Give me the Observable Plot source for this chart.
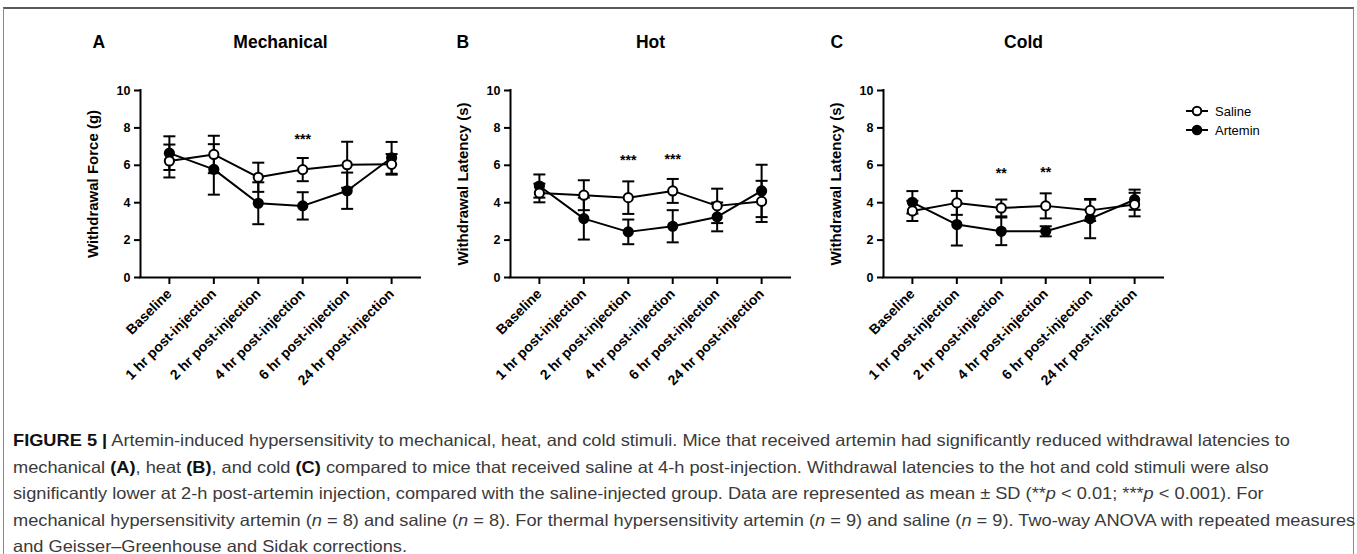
<!DOCTYPE html>
<html><head><meta charset="utf-8">
<script src="https://cdn.jsdelivr.net/npm/d3@7"></script>
<script src="https://cdn.jsdelivr.net/npm/@observablehq/plot@0.6"></script>
<style>
html,body{margin:0;padding:0;background:#fff;}
#fig{position:relative;width:1357px;height:554px;overflow:hidden;background:#fff;font-family:"Liberation Sans",Arial,sans-serif;}
#box{position:absolute;left:3px;top:7px;width:1349px;height:600px;border-top:2px solid #5a5a5a;border-left:1px solid #8a8a8a;border-right:1px solid #8a8a8a;}
.panel{position:absolute;top:0;}
#legend{position:absolute;left:1184px;top:100px;}
#caption{position:absolute;left:13px;top:427px;font-size:16.5px;line-height:26.5px;color:#3a3a3a;white-space:nowrap;transform-origin:0 0;}
#caption span{display:inline-block;}
#caption b{color:#111;}
</style></head><body><div id="fig"><div id="box"></div>
<div id="legend"></div>
<div id="caption">
<div><span><b>FIGURE 5 |</b> Artemin-induced hypersensitivity to mechanical, heat, and cold stimuli. Mice that received artemin had significantly reduced withdrawal latencies to</span></div>
<div><span>mechanical <b>(A)</b>, heat <b>(B)</b>, and cold <b>(C)</b> compared to mice that received saline at 4-h post-injection. Withdrawal latencies to the hot and cold stimuli were also</span></div>
<div><span>significantly lower at 2-h post-artemin injection, compared with the saline-injected group. Data are represented as mean ± SD (**<i>p</i> &lt; 0.01; ***<i>p</i> &lt; 0.001). For</span></div>
<div><span>mechanical hypersensitivity artemin (<i>n</i> = 8) and saline (<i>n</i> = 8). For thermal hypersensitivity artemin (<i>n</i> = 9) and saline (<i>n</i> = 9). Two-way ANOVA with repeated measures</span></div>
<div><span>and Geisser–Greenhouse and Sidak corrections.</span></div>
</div>
</div>
<script>
const timepoints = ["Baseline","1 hr post-injection","2 hr post-injection","4 hr post-injection","6 hr post-injection","24 hr post-injection"];
const groups = ["Saline","Artemin"];

const mechSalineMean = [6.23, 6.58, 5.36, 5.77, 6.03, 6.05];
const mechSalineSD   = [0.88, 1.00, 0.78, 0.62, 1.23, 0.55];
const mechArteminMean= [6.65, 5.78, 3.97, 3.83, 4.64, 6.40];
const mechArteminSD  = [0.90, 1.35, 1.12, 0.73, 0.97, 0.85];

const hotSalineMean  = [4.52, 4.40, 4.27, 4.63, 3.83, 4.07];
const hotSalineSD    = [0.50, 0.80, 0.87, 0.64, 0.92, 1.10];
const hotArteminMean = [4.89, 3.15, 2.44, 2.74, 3.24, 4.63];
const hotArteminSD   = [0.62, 1.12, 0.66, 0.86, 0.77, 1.40];

const coldSalineMean = [3.56, 3.99, 3.72, 3.83, 3.59, 3.90];
const coldSalineSD   = [0.54, 0.64, 0.45, 0.67, 0.57, 0.63];
const coldArteminMean= [4.02, 2.83, 2.47, 2.47, 3.15, 4.16];
const coldArteminSD  = [0.60, 1.12, 0.74, 0.27, 1.05, 0.54];

const mechStars = [{i:3, y:7.40, label:"***"}];
const hotStars  = [{i:2, y:6.27, label:"***"}, {i:3, y:6.30, label:"***"}];
const coldStars = [{i:2, y:5.57, label:"**"}, {i:3, y:5.60, label:"**"}];

const yTicks = [0, 2, 4, 6, 8, 10];
const xPad = 0.65;

const hline = {draw(ctx, size){ const r = Math.sqrt(size/Math.PI); ctx.moveTo(-r,0); ctx.lineTo(r,0); }};

function rows(means, sds){
  return timepoints.map((t,i)=>({i, t, m:means[i], lo:means[i]-sds[i], hi:means[i]+sds[i]}));
}
function series(d, fill){
  return [
    Plot.ruleX(d, {x:"i", y1:"lo", y2:"hi", stroke:"#000", strokeWidth:2}),
    Plot.dot(d, {x:"i", y:"lo", symbol:hline, r:6, stroke:"#000", strokeWidth:2, fill:"none"}),
    Plot.dot(d, {x:"i", y:"hi", symbol:hline, r:6, stroke:"#000", strokeWidth:2, fill:"none"}),
    Plot.line(d, {x:"i", y:"m", stroke:"#000", strokeWidth:2}),
    Plot.dot(d, {x:"i", y:"m", r:4.6, fill, stroke:"#000", strokeWidth:2})
  ];
}
function panel(cfg){
  const sal = rows(cfg.sm, cfg.ss), art = rows(cfg.am, cfg.as);
  const p = Plot.plot({
    width:360, height:420, marginLeft:60, marginRight:20, marginTop:90, marginBottom:143,
    style:{fontFamily:'"Liberation Sans", Arial, sans-serif', fontWeight:"bold", color:"#000", background:"transparent", overflow:"visible"},
    x:{type:"linear", domain:[-xPad, timepoints.length-1+xPad], axis:null},
    y:{domain:[0,10], axis:null},
    marks:[
      Plot.axisY({ticks:yTicks, tickSize:6, tickPadding:4, strokeWidth:2, fontSize:12.5, fontWeight:"bold", label:null}),
      Plot.axisX({ticks:d3.range(timepoints.length), tickFormat:i=>timepoints[i], tickSize:7, tickPadding:7, tickRotate:-45, strokeWidth:2, fontSize:14, fontWeight:"bold", label:null}),
      Plot.ruleX([-xPad], {stroke:"#000", strokeWidth:2, strokeLinecap:"square"}),
      Plot.ruleY([0], {stroke:"#000", strokeWidth:2, strokeLinecap:"square"}),
      ...series(art, "#000"),
      ...series(sal, "#fff"),
      Plot.text(cfg.stars, {x:"i", y:"y", text:"label", fontSize:14, fontWeight:"bold"}),
      Plot.text([cfg.title], {frameAnchor:"top", dy:-55, fontSize:17.5, fontWeight:"bold"}),
      Plot.text([cfg.letter], {frameAnchor:"top-left", dx:cfg.letterDx, dy:-55, fontSize:17.5, fontWeight:"bold"}),
      Plot.text([cfg.ylabel], {frameAnchor:"left", textAnchor:"middle", dx:-47, rotate:-90, fontSize:15, fontWeight:"bold"})
    ]
  });
  p.classList.add("panel");
  p.style.position = "absolute";
  p.style.left = cfg.left + "px";
  p.style.top = "0px";
  document.getElementById("fig").appendChild(p);
}

panel({title:"Mechanical", letter:"A", letterDx:-48, ylabel:"Withdrawal Force (g)", left:80,
  sm:mechSalineMean, ss:mechSalineSD, am:mechArteminMean, as:mechArteminSD, stars:mechStars});
panel({title:"Hot", letter:"B", letterDx:-54, ylabel:"Withdrawal Latency (s)", left:450,
  sm:hotSalineMean, ss:hotSalineSD, am:hotArteminMean, as:hotArteminSD, stars:hotStars});
panel({title:"Cold", letter:"C", letterDx:-53, ylabel:"Withdrawal Latency (s)", left:823,
  sm:coldSalineMean, ss:coldSalineSD, am:coldArteminMean, as:coldArteminSD, stars:coldStars});

// legend
(function(){
  const ns = "http://www.w3.org/2000/svg";
  const svg = document.createElementNS(ns, "svg");
  svg.setAttribute("width", 120); svg.setAttribute("height", 45);
  groups.forEach((g, k) => {
    const y = 11 + k*19;
    const ln = document.createElementNS(ns, "line");
    ln.setAttribute("x1", 2); ln.setAttribute("x2", 24); ln.setAttribute("y1", y); ln.setAttribute("y2", y);
    ln.setAttribute("stroke", "#000"); ln.setAttribute("stroke-width", 2);
    svg.appendChild(ln);
    const c = document.createElementNS(ns, "circle");
    c.setAttribute("cx", 13); c.setAttribute("cy", y); c.setAttribute("r", 4.3);
    c.setAttribute("fill", g === "Saline" ? "#fff" : "#000"); c.setAttribute("stroke", "#000"); c.setAttribute("stroke-width", 2);
    svg.appendChild(c);
    const t = document.createElementNS(ns, "text");
    t.setAttribute("x", 31); t.setAttribute("y", y); t.setAttribute("dy", "0.35em");
    t.setAttribute("font-size", 13); t.setAttribute("font-family", '"Liberation Sans", Arial, sans-serif');
    t.textContent = g;
    svg.appendChild(t);
  });
  document.getElementById("legend").appendChild(svg);
})();

// fit caption width
(function(){
  const cap = document.getElementById("caption");
  const w = cap.querySelector("span").getBoundingClientRect().width;
  const s = 1277 / w;
  cap.style.transform = "scaleX(" + s + ")";
})();
</script>
</body></html>
